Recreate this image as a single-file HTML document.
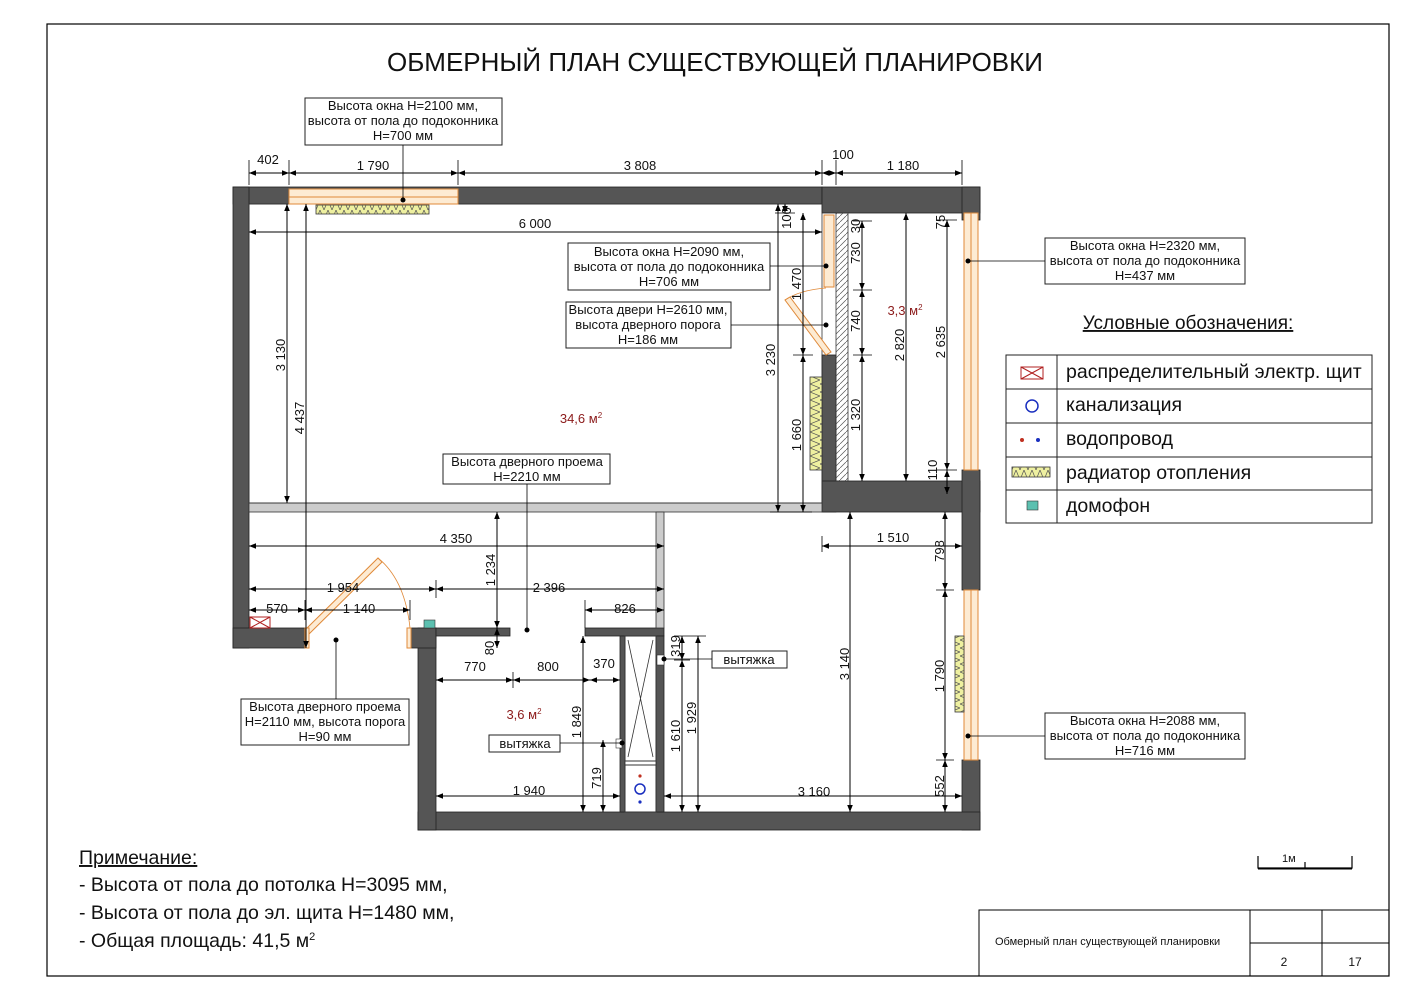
<!DOCTYPE html>
<html><head><meta charset="utf-8"><style>
html,body{margin:0;padding:0;background:#fff}
svg{display:block}
text{font-family:"Liberation Sans",sans-serif;fill:#111}
.d{stroke:#000;stroke-width:1;marker-start:url(#a);marker-end:url(#a)}
.e{stroke:#000;stroke-width:0.8}
.w{fill:#555;stroke:#222;stroke-width:0.8}
.p{fill:#ccc;stroke:#333;stroke-width:0.8}
.t{font-size:13px}
.b{fill:#fff;stroke:#222;stroke-width:1}
.c{font-size:13px;text-anchor:middle}
.win{fill:#fdebd3;stroke:#e08a3a;stroke-width:1}
.rad{fill:#eef0a0;stroke:#333;stroke-width:0.8}
.ar{fill:#8b1a1a;font-size:13px;text-anchor:middle}
</style></head><body>
<svg width="1413" height="1000" viewBox="0 0 1413 1000" xmlns="http://www.w3.org/2000/svg">
<defs>
<marker id="a" viewBox="0 0 10 10" refX="10" refY="5" markerWidth="9" markerHeight="7" orient="auto-start-reverse" markerUnits="userSpaceOnUse"><path d="M0,1 L10,5 L0,9 z" fill="#000"/></marker>
<pattern id="zz" width="8" height="10" patternUnits="userSpaceOnUse"><path d="M0,0 L4,10 L8,0" fill="none" stroke="#555" stroke-width="0.7"/></pattern>
<pattern id="zv" width="10" height="8" patternUnits="userSpaceOnUse"><path d="M0,0 L10,4 L0,8" fill="none" stroke="#555" stroke-width="0.7"/></pattern>
<pattern id="hat" width="6" height="6" patternUnits="userSpaceOnUse"><path d="M0,6 L6,0" stroke="#555" stroke-width="0.7"/></pattern>
</defs>
<rect x="47" y="24" width="1342" height="952" fill="none" stroke="#000" stroke-width="1.2"/>
<text x="715" y="71" font-size="26" text-anchor="middle">ОБМЕРНЫЙ ПЛАН СУЩЕСТВУЮЩЕЙ ПЛАНИРОВКИ</text>

<!-- walls -->
<rect class="w" x="233" y="187" width="589" height="17"/>
<rect class="w" x="233" y="187" width="16" height="461"/>
<rect class="w" x="822" y="187" width="158" height="26"/>
<rect class="w" x="962" y="187" width="18" height="33"/>
<rect class="w" x="822" y="355" width="14" height="157"/>
<rect class="w" x="822" y="481" width="158" height="31"/>
<rect class="w" x="962" y="470" width="18" height="120"/>
<rect class="w" x="962" y="760" width="18" height="70"/>
<rect class="w" x="418" y="812" width="562" height="18"/>
<rect class="w" x="418" y="628" width="18" height="202"/>
<rect class="w" x="233" y="628" width="72" height="20"/>
<rect class="w" x="410" y="628" width="26" height="20"/>
<rect class="w" x="436" y="628" width="74" height="8"/>
<rect class="w" x="585" y="628" width="79" height="8"/>
<rect class="w" x="656" y="636" width="8" height="176"/>
<rect class="w" x="620" y="636" width="5" height="176"/>
<rect class="p" x="249" y="503" width="573" height="9"/>
<rect class="p" x="656" y="512" width="8" height="116"/>
<rect x="836" y="213" width="12" height="268" fill="url(#hat)" stroke="#333" stroke-width="0.8"/>
<rect x="249" y="204" width="573" height="299" fill="none" stroke="#333" stroke-width="0.8"/>
<!-- shaft -->
<rect x="625" y="636" width="31" height="125" fill="#fff" stroke="#333"/>
<path d="M628,640 L653,757 M653,640 L628,757" stroke="#333" stroke-width="0.8"/>
<rect x="625" y="765" width="31" height="47" fill="#fff" stroke="#333"/>
<circle cx="640" cy="789" r="5" fill="none" stroke="#1a2fbf" stroke-width="1.5"/>
<circle cx="640" cy="776" r="1.6" fill="#c03020"/><circle cx="640" cy="802" r="1.6" fill="#1a2fbf"/>

<!-- windows -->
<rect class="win" x="289" y="189" width="169" height="8"/>
<rect class="win" x="289" y="197" width="169" height="7" fill="#fff"/>
<rect class="win" x="824" y="215" width="10" height="72"/>
<rect class="win" x="964" y="213" width="14" height="257"/>
<line x1="971" y1="213" x2="971" y2="470" stroke="#e08a3a"/>
<rect class="win" x="964" y="590" width="14" height="170"/>
<line x1="971" y1="590" x2="971" y2="760" stroke="#e08a3a"/>
<!-- radiators -->
<rect class="rad" x="316" y="205" width="113" height="9"/>
<rect x="316" y="205" width="113" height="9" fill="url(#zz)"/>
<rect class="rad" x="810" y="377" width="12" height="93"/>
<rect x="810" y="377" width="12" height="93" fill="url(#zv)"/>
<rect class="rad" x="955" y="636" width="9" height="76"/>
<rect x="955" y="636" width="9" height="76" fill="url(#zv)"/>
<!-- doors -->
<path d="M826,355 L785,300 L790,297 L831,352 z" fill="#fdebd3" stroke="#e08a3a"/>
<path d="M785,300 Q800,290 826,288" fill="none" stroke="#e08a3a" stroke-width="0.8"/>
<path d="M305,630 L378,558 L382,562 L309,634 z" fill="#fdebd3" stroke="#e08a3a"/>
<path d="M378,558 Q405,580 410,628" fill="none" stroke="#e08a3a" stroke-width="0.8"/>
<rect x="305" y="628" width="4" height="20" fill="#fdebd3" stroke="#e08a3a"/>
<rect x="407" y="628" width="4" height="20" fill="#fdebd3" stroke="#e08a3a"/>
<!-- elec panel, intercom -->
<rect x="250" y="617" width="20" height="11" fill="#fff" stroke="#b02020"/>
<path d="M250,617 L270,628 M270,617 L250,628" stroke="#b02020"/>
<rect x="424" y="620" width="11" height="8" fill="#5cc0b0" stroke="#333" stroke-width="0.6"/>
<rect x="657" y="655" width="7" height="10" fill="#fff" stroke="#333" stroke-width="0.6"/>
<rect x="616" y="739" width="6" height="9" fill="#fff" stroke="#333" stroke-width="0.6"/>

<!-- dimensions top -->
<g class="e">
<line x1="249" y1="160" x2="249" y2="185"/><line x1="289" y1="160" x2="289" y2="185"/><line x1="458" y1="160" x2="458" y2="185"/>
<line x1="822" y1="160" x2="822" y2="185"/><line x1="836" y1="160" x2="836" y2="185"/><line x1="962" y1="160" x2="962" y2="185"/>
</g>
<line class="d" x1="249" y1="173" x2="289" y2="173"/>
<line class="d" x1="289" y1="173" x2="458" y2="173"/>
<line class="d" x1="458" y1="173" x2="822" y2="173"/>
<line class="d" x1="822" y1="173" x2="836" y2="173"/>
<line class="d" x1="836" y1="173" x2="962" y2="173"/>
<g class="t" text-anchor="middle">
<text x="268" y="164">402</text><text x="373" y="170">1 790</text><text x="640" y="170">3 808</text>
<text x="843" y="159">100</text><text x="903" y="170">1 180</text>
<text x="535" y="228">6 000</text><text x="456" y="543">4 350</text>
<text x="343" y="592">1 954</text><text x="549" y="592">2 396</text>
<text x="277" y="613">570</text><text x="359" y="613">1 140</text><text x="625" y="613">826</text>
<text x="475" y="671">770</text><text x="548" y="671">800</text><text x="604" y="668">370</text>
<text x="529" y="795">1 940</text><text x="814" y="796">3 160</text><text x="893" y="542">1 510</text>
</g>
<line class="d" x1="249" y1="232" x2="822" y2="232"/>
<line class="d" x1="249" y1="546" x2="664" y2="546"/>
<line class="d" x1="249" y1="589" x2="436" y2="589"/>
<line class="d" x1="436" y1="589" x2="664" y2="589"/>
<line class="d" x1="249" y1="610" x2="305" y2="610"/>
<line class="d" x1="305" y1="610" x2="410" y2="610"/>
<line class="d" x1="585" y1="610" x2="664" y2="610"/>
<line class="d" x1="436" y1="680" x2="513" y2="680"/>
<line class="d" x1="513" y1="680" x2="590" y2="680"/>
<line class="d" x1="590" y1="680" x2="620" y2="680"/>
<line class="d" x1="436" y1="796" x2="620" y2="796"/>
<line class="d" x1="664" y1="796" x2="962" y2="796"/>
<line class="d" x1="822" y1="546" x2="962" y2="546"/>
<g class="e"><line x1="436" y1="580" x2="436" y2="598"/><line x1="585" y1="600" x2="585" y2="628"/><line x1="822" y1="536" x2="822" y2="552"/><line x1="305" y1="600" x2="305" y2="620"/><line x1="410" y1="600" x2="410" y2="620"/><line x1="513" y1="672" x2="513" y2="688"/></g>
<!-- verticals -->
<line class="d" x1="287" y1="204" x2="287" y2="503"/>
<line class="d" x1="306" y1="204" x2="306" y2="648"/>
<line class="d" x1="785" y1="204" x2="785" y2="213"/>
<line class="d" x1="803" y1="213" x2="803" y2="355"/>
<line class="d" x1="778" y1="204" x2="778" y2="512"/>
<line class="d" x1="803" y1="355" x2="803" y2="512"/>
<line class="d" x1="862" y1="221" x2="862" y2="290"/>
<line class="d" x1="862" y1="290" x2="862" y2="355"/>
<line class="d" x1="862" y1="355" x2="862" y2="481"/>
<line class="d" x1="906" y1="213" x2="906" y2="481"/>
<line class="d" x1="947" y1="220" x2="947" y2="470"/>
<line class="d" x1="947" y1="470" x2="947" y2="494"/>
<line class="d" x1="497" y1="512" x2="497" y2="628"/>
<line class="d" x1="497" y1="628" x2="497" y2="648"/>
<line class="d" x1="583" y1="636" x2="583" y2="812"/>
<line class="d" x1="603" y1="740" x2="603" y2="812"/>
<line class="d" x1="682" y1="636" x2="682" y2="660"/>
<line class="d" x1="682" y1="660" x2="682" y2="812"/>
<line class="d" x1="698" y1="636" x2="698" y2="812"/>
<line class="d" x1="850" y1="512" x2="850" y2="812"/>
<line class="d" x1="945" y1="512" x2="945" y2="590"/>
<line class="d" x1="945" y1="590" x2="945" y2="760"/>
<line class="d" x1="945" y1="760" x2="945" y2="812"/>
<g class="e"><line x1="775" y1="213" x2="795" y2="213"/><line x1="793" y1="355" x2="813" y2="355"/><line x1="853" y1="221" x2="872" y2="221"/><line x1="853" y1="290" x2="872" y2="290"/><line x1="853" y1="355" x2="872" y2="355"/><line x1="937" y1="220" x2="957" y2="220"/><line x1="937" y1="470" x2="957" y2="470"/><line x1="936" y1="590" x2="954" y2="590"/><line x1="936" y1="760" x2="954" y2="760"/><line x1="674" y1="636" x2="706" y2="636"/><line x1="674" y1="660" x2="690" y2="660"/><line x1="770" y1="512" x2="812" y2="512"/></g>
<g class="t" text-anchor="middle">
<text transform="translate(285,355) rotate(-90)">3 130</text>
<text transform="translate(304,418) rotate(-90)">4 437</text>
<text transform="translate(791,218) rotate(-90)">100</text>
<text transform="translate(801,284) rotate(-90)">1 470</text>
<text transform="translate(775,360) rotate(-90)">3 230</text>
<text transform="translate(801,435) rotate(-90)">1 660</text>
<text transform="translate(860,226) rotate(-90)">30</text>
<text transform="translate(860,253) rotate(-90)">730</text>
<text transform="translate(860,321) rotate(-90)">740</text>
<text transform="translate(860,415) rotate(-90)">1 320</text>
<text transform="translate(904,345) rotate(-90)">2 820</text>
<text transform="translate(945,222) rotate(-90)">75</text>
<text transform="translate(945,342) rotate(-90)">2 635</text>
<text transform="translate(937,470) rotate(-90)">110</text>
<text transform="translate(495,570) rotate(-90)">1 234</text>
<text transform="translate(494,648) rotate(-90)">80</text>
<text transform="translate(581,722) rotate(-90)">1 849</text>
<text transform="translate(601,778) rotate(-90)">719</text>
<text transform="translate(680,646) rotate(-90)">319</text>
<text transform="translate(680,736) rotate(-90)">1 610</text>
<text transform="translate(696,718) rotate(-90)">1 929</text>
<text transform="translate(849,664) rotate(-90)">3 140</text>
<text transform="translate(944,551) rotate(-90)">798</text>
<text transform="translate(944,676) rotate(-90)">1 790</text>
<text transform="translate(944,786) rotate(-90)">552</text>
</g>

<!-- areas -->
<text class="ar" x="581" y="423">34,6 м<tspan font-size="8" dy="-5">2</tspan></text>
<text class="ar" x="905" y="315">3,3 м<tspan font-size="8" dy="-5">2</tspan></text>
<text class="ar" x="524" y="719">3,6 м<tspan font-size="8" dy="-5">2</tspan></text>

<!-- callouts -->
<g>
<rect class="b" x="305" y="98" width="197" height="47"/>
<text class="c" x="403" y="110">Высота окна Н=2100 мм,</text><text class="c" x="403" y="125">высота от пола до подоконника</text><text class="c" x="403" y="140">Н=700 мм</text>
<line class="e" x1="403" y1="145" x2="403" y2="200"/><circle cx="403" cy="200" r="2.5"/>
<rect class="b" x="568" y="243" width="202" height="47"/>
<text class="c" x="669" y="256">Высота окна Н=2090 мм,</text><text class="c" x="669" y="271">высота от пола до подоконника</text><text class="c" x="669" y="286">Н=706 мм</text>
<line class="e" x1="770" y1="266" x2="826" y2="266"/><circle cx="826" cy="266" r="2.5"/>
<rect class="b" x="566" y="302" width="165" height="46"/>
<text class="c" x="648" y="314">Высота двери Н=2610 мм,</text><text class="c" x="648" y="329">высота дверного порога</text><text class="c" x="648" y="344">Н=186 мм</text>
<line class="e" x1="731" y1="325" x2="826" y2="325"/><circle cx="826" cy="325" r="2.5"/>
<rect class="b" x="443" y="454" width="167" height="30"/>
<text class="c" x="527" y="466">Высота дверного проема</text><text class="c" x="527" y="481">Н=2210 мм</text>
<line class="e" x1="527" y1="484" x2="527" y2="630"/><circle cx="527" cy="630" r="2.5"/>
<rect class="b" x="1045" y="238" width="200" height="46"/>
<text class="c" x="1145" y="250">Высота окна Н=2320 мм,</text><text class="c" x="1145" y="265">высота от пола до подоконника</text><text class="c" x="1145" y="280">Н=437 мм</text>
<line class="e" x1="1045" y1="261" x2="968" y2="261"/><circle cx="968" cy="261" r="2.5"/>
<rect class="b" x="1045" y="713" width="200" height="46"/>
<text class="c" x="1145" y="725">Высота окна Н=2088 мм,</text><text class="c" x="1145" y="740">высота от пола до подоконника</text><text class="c" x="1145" y="755">Н=716 мм</text>
<line class="e" x1="1045" y1="736" x2="968" y2="736"/><circle cx="968" cy="736" r="2.5"/>
<rect class="b" x="241" y="699" width="168" height="46"/>
<text class="c" x="325" y="711">Высота дверного проема</text><text class="c" x="325" y="726">Н=2110 мм, высота порога</text><text class="c" x="325" y="741">Н=90 мм</text>
<line class="e" x1="336" y1="699" x2="336" y2="640"/><circle cx="336" cy="640" r="2.5"/>
<rect class="b" x="712" y="651" width="75" height="17"/>
<text class="c" x="749" y="664">вытяжка</text>
<line class="e" x1="664" y1="659" x2="712" y2="659"/><circle cx="664" cy="659" r="2.5"/>
<rect class="b" x="489" y="735" width="71" height="17"/>
<text class="c" x="525" y="748">вытяжка</text>
<line class="e" x1="560" y1="743" x2="622" y2="743"/><circle cx="622" cy="743" r="2.5"/>
</g>

<!-- legend -->
<text x="1188" y="329" font-size="19" text-anchor="middle" text-decoration="underline">Условные обозначения:</text>
<g stroke="#222" stroke-width="1" fill="none">
<rect x="1006" y="355" width="366" height="168"/>
<line x1="1057" y1="355" x2="1057" y2="523"/>
<line x1="1006" y1="389" x2="1372" y2="389"/><line x1="1006" y1="423" x2="1372" y2="423"/>
<line x1="1006" y1="457" x2="1372" y2="457"/><line x1="1006" y1="490" x2="1372" y2="490"/>
</g>
<rect x="1021" y="367" width="22" height="12" fill="#fff" stroke="#b02020"/><path d="M1021,367 L1043,379 M1043,367 L1021,379" stroke="#b02020"/>
<circle cx="1032" cy="406" r="6" fill="none" stroke="#1a2fbf" stroke-width="1.5"/>
<circle cx="1022" cy="440" r="2" fill="#c03020"/><circle cx="1038" cy="440" r="2" fill="#1a2fbf"/>
<rect class="rad" x="1012" y="467" width="38" height="10"/><rect x="1012" y="467" width="38" height="10" fill="url(#zz)"/>
<rect x="1027" y="501" width="11" height="9" fill="#5cc0b0" stroke="#333" stroke-width="0.6"/>
<g font-size="19.5">
<text x="1066" y="378">распределительный электр. щит</text>
<text x="1066" y="411">канализация</text>
<text x="1066" y="445">водопровод</text>
<text x="1066" y="479">радиатор отопления</text>
<text x="1066" y="512">домофон</text>
</g>

<!-- notes -->
<g font-size="19.5">
<text x="79" y="864" text-decoration="underline">Примечание:</text>
<text x="79" y="891">- Высота от пола до потолка Н=3095 мм,</text>
<text x="79" y="919">- Высота от пола до эл. щита Н=1480 мм,</text>
<text x="79" y="947">- Общая площадь: 41,5 м<tspan font-size="11" dy="-7">2</tspan></text>
</g>
<!-- scale -->
<path d="M1258,856 L1258,868 L1352,868 L1352,856 M1305,862 L1305,868" fill="none" stroke="#000" stroke-width="1.2"/>
<line x1="1258" y1="869" x2="1352" y2="869" stroke="#000" stroke-width="1"/>
<text x="1282" y="862" font-size="11">1м</text>
<!-- title block -->
<g stroke="#000" stroke-width="1" fill="none">
<path d="M979,976 L979,910 L1389,910"/>
<line x1="1250" y1="910" x2="1250" y2="976"/><line x1="1322" y1="910" x2="1322" y2="976"/>
<line x1="1250" y1="943" x2="1389" y2="943"/>
</g>
<text x="995" y="945" font-size="11">Обмерный план существующей планировки</text>
<text x="1284" y="966" font-size="12" text-anchor="middle">2</text>
<text x="1355" y="966" font-size="12" text-anchor="middle">17</text>
</svg>
</body></html>
